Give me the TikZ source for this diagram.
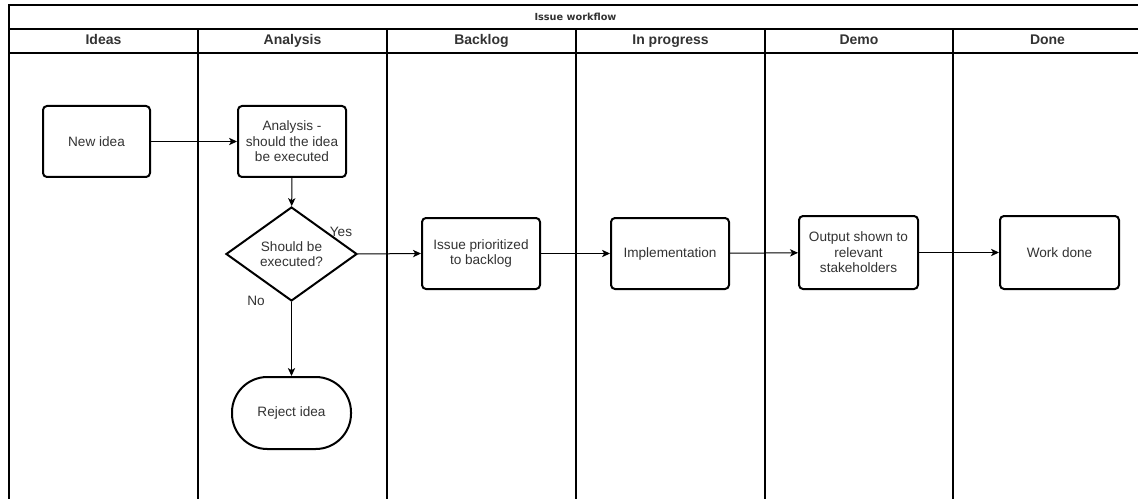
\documentclass[tikz,border=0pt]{standalone}
\usepackage{fontspec}
\setmainfont{Liberation Sans}
\newfontfamily\titlefont{DejaVu Sans}
\usetikzlibrary{arrows.meta,shapes.geometric}
\definecolor{txt}{HTML}{333333}
\tikzset{
    task/.style={draw, line width=1.5pt, rounded corners=3pt, align=center,
        text=txt, font=\fontsize{10.2}{11.6}\selectfont, inner sep=2pt},
    choice/.style={draw, diamond, line width=1.5pt, align=center, text=txt,
        font=\fontsize{10.2}{11.6}\selectfont, inner sep=0pt, aspect=1.4,
        minimum width=98.25pt, minimum height=70.5pt},
    terminal/.style={task, rounded corners=26.5pt},
    lanehead/.style={font=\bfseries\fontsize{10.5}{11}\selectfont, text=txt,
        text height=7.5pt, text depth=2pt},
    flow/.style={line width=0.75pt, ->}
}
\begin{document}
\begin{tikzpicture}[x=0.75pt, y=-0.75pt, >={Stealth[length=6pt,width=5.5pt,inset=1.6pt]}]
            \useasboundingbox (0,0) rectangle (1138,499);
            \fill[white] (0,0) rectangle (1138,499);

            % pool and lanes
            \draw[line width=0.9pt] (9,5) rectangle (1142,505);
            \draw[line width=0.9pt] (9,29) -- (1142,29);
            \draw[line width=0.9pt] (9,53) -- (1142,53);
            \foreach \x in {198,387,576,765,953}
                \draw[line width=0.9pt] (\x,29) -- (\x,505);

            \node[font=\titlefont\bfseries\fontsize{7.3}{8}\selectfont, text=txt] (title) at (575.5,17) {Issue workflow};
            \node[lanehead] (ideas) at (103.5,41) {Ideas};
            \node[lanehead] (analysislane) at (292.5,41) {Analysis};
            \node[lanehead] (backlog) at (481.5,41) {Backlog};
            \node[lanehead] (progress) at (670.5,41) {In progress};
            \node[lanehead] (demo) at (859,41) {Demo};
            \node[lanehead] (done) at (1047.5,41) {Done};

            % steps
            \node[task, minimum width=80.25pt, minimum height=53.25pt] (newidea) at (96.5,141.5) {New idea};
            \node[task, minimum width=81pt, minimum height=53.25pt] (analysis) at (292,141.5) {Analysis -\\should the idea\\be executed};
            \node[choice] (decide) at (291.5,254) {Should be\\executed?};
            \node[terminal, minimum width=89.25pt, minimum height=54pt] (reject) at (291.5,413) {Reject idea};
            \node[task, minimum width=88.5pt, minimum height=53.25pt] (issue) at (481,253.5) {Issue prioritized\\to backlog};
            \node[task, minimum width=88.5pt, minimum height=53.25pt] (impl) at (670,253.5) {Implementation};
            \node[task, minimum width=89.25pt, minimum height=54.75pt] (output) at (858.5,252.5) {Output shown to\\relevant\\stakeholders};
            \node[task, minimum width=89.25pt, minimum height=54.75pt] (workdone) at (1059.5,252.5) {Work done};

            \node[text=txt, font=\fontsize{10.2}{11}\selectfont] (yes) at (341,232) {Yes};
            \node[text=txt, font=\fontsize{10.2}{11}\selectfont] (no) at (256,301) {No};

            \draw[flow] (newidea) -- (analysis);
            \draw[flow] (analysis) -- (decide);
            \draw[flow] (decide.east) -- (issue.west);
            \draw[flow] (decide.south) -- (reject.north);
            \draw[flow] (issue) -- (impl);
            \draw[flow] (impl) -- (output);
            \draw[flow] (output) -- (workdone);
        \end{tikzpicture}
\end{document}
